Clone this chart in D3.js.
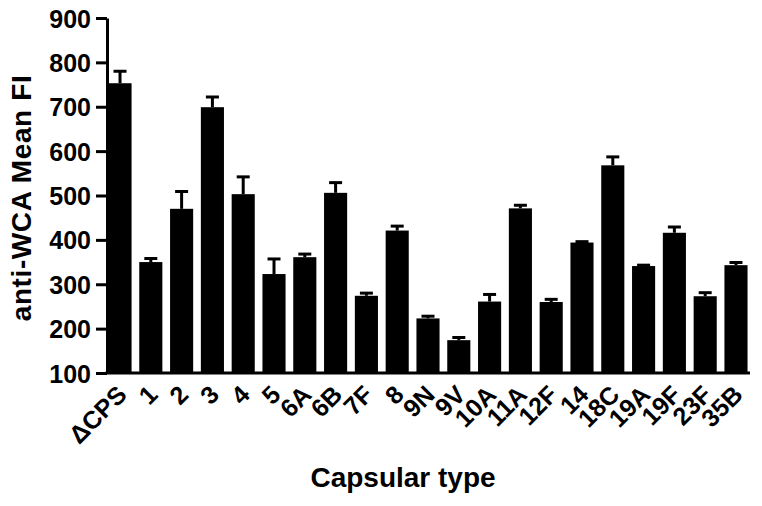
<!DOCTYPE html>
<html>
<head>
<meta charset="utf-8">
<script src="https://cdn.jsdelivr.net/npm/d3@7"></script>
<style>
  html, body { margin: 0; padding: 0; background: #fff; }
  svg { display: block; }
  text { font-family: "Liberation Sans", Arial, sans-serif; font-weight: bold; fill: #000; }
</style>
</head>
<body>
<svg id="chart" width="762" height="506"></svg>
<script>
const categories = ["ΔCPS","1","2","3","4","5","6A","6B","7F","8","9N","9V","10A","11A","12F","14","18C","19A","19F","23F","35B"];
const means  = [753,350,470,699,503,323,361,506,274,421,223,174,261,471,260,394,568,341,416,273,343];
const errors = [27,8,39,23,39,34,7,23,6,10,5,6,16,7,6,2,19,2,13,8,6];
const yTicks = [100,200,300,400,500,600,700,800,900];
const yTitle = "anti-WCA Mean FI";
const xTitle = "Capsular type";

const data = categories.map((c, i) => ({ c, v: means[i], e: errors[i] }));

const svg = d3.select("#chart");
const x = d3.scaleBand().domain(categories).range([106, 750]).paddingInner(0.25).paddingOuter(0.08);
const y = d3.scaleLinear().domain([100, 900]).range([373, 18]);

// bars
svg.append("g").selectAll("rect").data(data).join("rect")
  .attr("x", d => x(d.c))
  .attr("width", x.bandwidth())
  .attr("y", d => y(d.v))
  .attr("height", d => y(100) - y(d.v))
  .attr("fill", "#000");

// error bars (upper)
const eb = svg.append("g").attr("stroke", "#000").attr("stroke-width", 3);
eb.selectAll("line.stem").data(data).join("line").attr("class", "stem")
  .attr("x1", d => x(d.c) + x.bandwidth() / 2)
  .attr("x2", d => x(d.c) + x.bandwidth() / 2)
  .attr("y1", d => y(d.v))
  .attr("y2", d => y(d.v + d.e));
eb.selectAll("line.cap").data(data).join("line").attr("class", "cap")
  .attr("x1", d => x(d.c) + x.bandwidth() / 2 - 6.5)
  .attr("x2", d => x(d.c) + x.bandwidth() / 2 + 6.5)
  .attr("y1", d => y(d.v + d.e))
  .attr("y2", d => y(d.v + d.e));

// y axis
const yAxis = svg.append("g").attr("transform", "translate(107,0)")
  .call(d3.axisLeft(y).tickValues(yTicks).tickSize(11).tickPadding(5).tickSizeOuter(0));
yAxis.select(".domain").attr("stroke-width", 3);
yAxis.selectAll(".tick line").attr("stroke-width", 3);
yAxis.selectAll(".tick text").style("font-size", "25px").attr("dy", "0.36em");

// x axis
const xAxis = svg.append("g").attr("transform", "translate(0,373)")
  .call(d3.axisBottom(x).tickSize(0).tickSizeOuter(0).tickPadding(0));
xAxis.select(".domain").attr("stroke-width", 3).attr("d", "M105.5,0H750");
xAxis.selectAll(".tick text")
  .style("font-size", "25px")
  .attr("text-anchor", "end")
  .attr("y", 0).attr("dy", "0.35em")
  .attr("transform", "translate(2,17) rotate(-45)");

// titles
svg.append("text")
  .attr("transform", "translate(31,198) rotate(-90)")
  .attr("text-anchor", "middle")
  .style("font-size", "28px")
  .style("letter-spacing", "0.6px")
  .text(yTitle);
svg.append("text")
  .attr("x", 403).attr("y", 487)
  .attr("text-anchor", "middle")
  .style("font-size", "28px")
  .text(xTitle);
</script>
</body>
</html>
